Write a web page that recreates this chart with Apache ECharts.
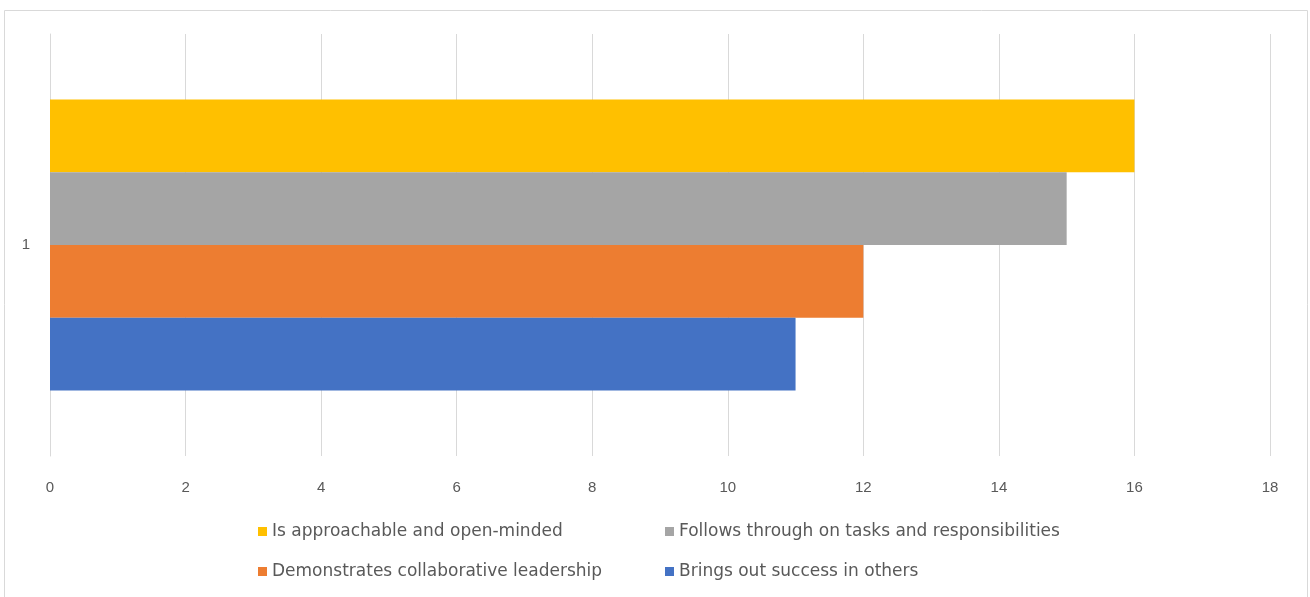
<!DOCTYPE html>
<html><head><meta charset="utf-8">
<script src="https://cdn.jsdelivr.net/npm/echarts@6/dist/echarts.min.js"></script>
<style>html,body{margin:0;padding:0;background:#fff}#c{width:1310px;height:597px}</style>
</head><body><div id="c"></div>
<script>
const categories = ['1'];
const seriesNames = ['Is approachable and open-minded','Follows through on tasks and responsibilities','Demonstrates collaborative leadership','Brings out success in others'];
const seriesValues = [[16],[15],[12],[11]];
const seriesColors = ['#FFC000','#A5A5A5','#ED7D31','#4472C4'];
const xTicks = {min:0, max:18, interval:2};

const chart = echarts.init(document.getElementById('c'));
const txt = {color:'#595959', fontFamily:'Liberation Sans, sans-serif', fontSize:15};
const legTxt = {color:'#595959', fontFamily:'DejaVu Sans, sans-serif', fontSize:17};
const legPos = [[253,518],[660,518],[253,558],[660,558]];
chart.setOption({
  animation:false,
  graphic:[{type:'rect', shape:{x:4.5,y:10.5,width:1303,height:600}, style:{fill:'none', stroke:'#d9d9d9', lineWidth:1}}],
  grid:{left:50, right:40, top:34, bottom:141},
  legend: seriesNames.map((n,i)=>({data:[n], left:legPos[i][0], top:legPos[i][1], itemWidth:9, itemHeight:9, itemGap:5, icon:'rect', textStyle:legTxt})),
  xAxis:{type:'value', min:xTicks.min, max:xTicks.max, interval:xTicks.interval,
    axisLine:{show:false}, axisTick:{show:false},
    splitLine:{lineStyle:{color:'#d9d9d9'}},
    axisLabel:Object.assign({margin:24}, txt)},
  yAxis:{type:'category', data:categories, inverse:true,
    axisLine:{lineStyle:{color:'#d9d9d9'}}, axisTick:{show:false},
    axisLabel:Object.assign({margin:20}, txt)},
  series: seriesNames.map((n,i)=>({name:n, type:'bar', data:seriesValues[i],
    itemStyle:{color:seriesColors[i]}, barGap:'0%', barCategoryGap:'31%'}))
});
</script></body></html>
